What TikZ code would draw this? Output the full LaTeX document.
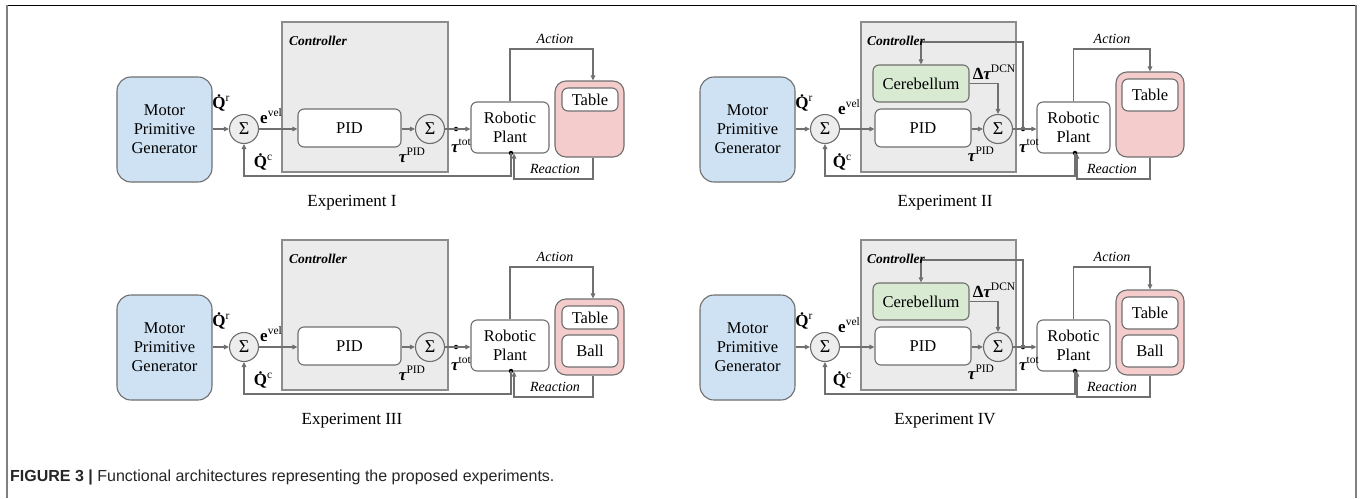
\documentclass[tikz,border=0pt]{standalone}
\usepackage{fontspec}
\setmainfont{Liberation Serif}
\newfontfamily\capfont{Liberation Sans}
\newfontfamily\txtfont{Liberation Serif}
\usetikzlibrary{arrows.meta}
\definecolor{mpgblue}{HTML}{CFE2F3}
\definecolor{ctrlbg}{HTML}{EBEBEB}
\definecolor{cergreen}{HTML}{D9EAD3}
\definecolor{envpink}{HTML}{F4CCCC}
\definecolor{bordergray}{HTML}{6F6F6F}
\definecolor{linegray}{HTML}{707070}
\definecolor{sumfill}{HTML}{EDEDED}
\newcommand\mysup[1]{\raisebox{0.42em}{\fontsize{11.5}{12}\selectfont\mdseries\upshape #1}}
\newcommand\qdot{{\bfseries\.{Q}}}
\newcommand\btau{{\bfseries\itshape τ}}
\tikzset{
  blk/.style={draw=bordergray, line width=1.1pt, rounded corners=6pt, fill=white,
    font=\txtfont\fontsize{16.5}{19}\selectfont, align=center, inner sep=0pt},
  mpgbox/.style={blk, fill=mpgblue, rounded corners=14pt},
  cerbox/.style={blk, fill=cergreen},
  envbox/.style={draw=bordergray, line width=1.1pt, rounded corners=11pt, fill=envpink, inner sep=0pt},
  ctrlbox/.style={draw=bordergray!80, line width=1.1pt, fill=ctrlbg, inner sep=0pt},
  ctrllbl/.style={font=\txtfont\fontsize{13.5}{15}\selectfont\bfseries\itshape, inner sep=0pt},
  sumc/.style={circle, draw=bordergray, line width=1.1pt, fill=sumfill, minimum size=29pt,
    inner sep=0pt, font=\txtfont\fontsize{18}{18}\selectfont},
  conn/.style={draw=linegray, line width=1.1pt},
  arr/.style={conn, -{Triangle[length=5pt,width=4.5pt]}},
  jdot/.style={circle, fill=black, minimum size=4.5pt, inner sep=0pt},
  sym/.style={font=\txtfont\fontsize{17}{18}\selectfont, inner sep=0pt},
  lbl/.style={font=\txtfont\fontsize{14}{15}\selectfont\itshape, inner sep=0pt},
  explbl/.style={font=\txtfont\fontsize{17}{18}\selectfont, inner sep=0pt},
}
% panel without cerebellum: #1 prefix, #2 yshift, #3 ball (1/0), #4 title
\newcommand\mypanelA[4]{%
\begin{scope}[yshift=#2]
\node[mpgbox, minimum width=95pt, minimum height=105pt] (#1mpg) at (164.5,129.5) {Motor\\Primitive\\Generator};
\node[ctrlbox, minimum width=166pt, minimum height=150pt] (#1ctrl) at (365,97) {};
\node[ctrllbl, anchor=west] (#1ctrlt) at (289,41) {Controller};
\node[sumc] (#1s1) at (244,129) {Σ};
\node[blk, minimum width=103pt, minimum height=38pt] (#1pid) at (349.5,128) {PID};
\node[sumc, fill=ctrlbg] (#1s2) at (430,129) {Σ};
\node[blk, minimum width=78pt, minimum height=51pt] (#1rp) at (510,127.5) {Robotic\\Plant};
\node[envbox, minimum width=69pt, minimum height=76pt] (#1env) at (589.5,119) {};
\node[blk, minimum width=56pt, minimum height=23pt] (#1tab) at (590,99.5) {Table};
\ifnum#3=1
\node[blk, minimum width=56pt, minimum height=32pt] (#1ball) at (590,133) {Ball};
\fi
\node[jdot] (#1j) at (456,129) {};
\node[jdot] (#1fb) at (511,153) {};
\coordinate (#1acttop) at (593,49);
\coordinate (#1reabot) at (593,179);
\coordinate (#1reac) at (514,179);
\coordinate (#1fbc) at (511,176);
\draw[arr] (#1mpg.east |- #1s1.west) -- (#1s1.west);
\draw[arr] (#1s1.east) -- (#1pid.west |- #1s1.east);
\draw[arr] (#1pid.east |- #1s2.west) -- (#1s2.west);
\draw[conn] (#1s2.east) -- (#1j.center);
\draw[arr] (#1j.center) -- (#1rp.west |- #1j.center);
\draw[arr] (#1rp.north) |- (#1acttop) -- (#1acttop |- #1env.north);
\draw[arr] (#1reabot |- #1env.south) -- (#1reabot) -- (#1reac) -- (#1reac |- #1rp.south);
\draw[arr] (#1fb.center) -- (#1fbc) -| (#1s1.south);
\node[lbl] (#1act) at (555,39) {Action};
\node[lbl] (#1rea) at (555,169) {Reaction};
\node[sym] (#1qr) at (221,103) {\qdot\mysup{r}};
\node[sym] (#1ev) at (271,116) {\textbf{e}\mysup{vel}};
\node[sym] (#1qc) at (263,162) {\qdot\mysup{c}};
\node[sym] (#1tp) at (412,155) {\btau\mysup{PID}};
\node[sym] (#1tt) at (461,146) {\btau\mysup{tot}};
\node[explbl] (#1title) at (352,203) {#4};
\end{scope}}
% panel with cerebellum
\newcommand\mypanelB[4]{%
\begin{scope}[yshift=#2]
\node[mpgbox, minimum width=95pt, minimum height=105pt] (#1mpg) at (747.5,129.5) {Motor\\Primitive\\Generator};
\node[ctrlbox, minimum width=155pt, minimum height=150pt] (#1ctrl) at (938.5,97) {};
\node[sumc] (#1s1) at (825,129) {Σ};
\node[cerbox, minimum width=96pt, minimum height=37pt] (#1cer) at (921,83.5) {Cerebellum};
\node[blk, minimum width=96pt, minimum height=38pt] (#1pid) at (923,128) {PID};
\node[sumc, fill=ctrlbg] (#1s2) at (998,129) {Σ};
\node[blk, minimum width=73pt, minimum height=51pt] (#1rp) at (1073.5,127.5) {Robotic\\Plant};
\node[envbox, minimum width=68pt, minimum height=85pt] (#1env) at (1150,114.5) {};
\node[blk, minimum width=56pt, minimum height=32pt] (#1tab) at (1150,95) {Table};
\ifnum#3=1
\node[blk, minimum width=56pt, minimum height=32pt] (#1ball) at (1150,133) {Ball};
\fi
\node[jdot] (#1j) at (1023,129) {};
\node[jdot] (#1fb) at (1075,153) {};
\coordinate (#1lp) at (1023,42);
\coordinate (#1acttop) at (1150,49);
\coordinate (#1reabot) at (1150,179);
\coordinate (#1reac) at (1077,179);
\coordinate (#1fbc) at (1075,176);
\draw[arr] (#1mpg.east |- #1s1.west) -- (#1s1.west);
\draw[arr] (#1s1.east) -- (#1pid.west |- #1s1.east);
\draw[arr] (#1pid.east |- #1s2.west) -- (#1s2.west);
\draw[conn] (#1s2.east) -- (#1j.center);
\draw[arr] (#1j.center) -- (#1rp.west |- #1j.center);
\draw[arr] (#1j.center) -- (#1lp) -| (#1cer.north);
\draw[arr] (#1cer.east) -| (#1s2.north);
\node[ctrllbl, anchor=west] (#1ctrlt) at (867,41) {Controller};
\draw[arr] (#1rp.north) |- (#1acttop) -- (#1acttop |- #1env.north);
\draw[arr] (#1reabot |- #1env.south) -- (#1reabot) -- (#1reac) -- (#1reac |- #1rp.south);
\draw[arr] (#1fb.center) -- (#1fbc) -| (#1s1.south);
\node[lbl] (#1act) at (1112,39) {Action};
\node[lbl] (#1rea) at (1112,169) {Reaction};
\node[sym] (#1qr) at (804,103) {\qdot\mysup{r}};
\node[sym] (#1ev) at (849,107) {\textbf{e}\mysup{vel}};
\node[sym] (#1qc) at (842,162) {\qdot\mysup{c}};
\node[sym] (#1tp) at (981,154) {\btau\mysup{PID}};
\node[sym] (#1tt) at (1029,146) {\btau\mysup{tot}};
\node[sym] (#1dt) at (994,72) {{\bfseries Δ}\btau\mysup{DCN}};
\node[explbl] (#1title) at (945,203) {#4};
\end{scope}}
\begin{document}
\begin{tikzpicture}[x=1pt,y=-1pt]
\useasboundingbox (0,0) rectangle (1360,498);
\fill[white] (0,0) rectangle (1360,498);
\draw[black, line width=0.9pt] (7,5) -- (1356,5);
\draw[gray, line width=1.6pt] (7,5) -- (7,498);
\draw[gray, line width=1.6pt] (1356,5) -- (1356,498);
\mypanelA{a}{0pt}{0}{Experiment I}
\mypanelB{b}{0pt}{0}{Experiment II}
\mypanelA{c}{-218pt}{1}{Experiment III}
\mypanelB{d}{-218pt}{1}{Experiment IV}
\node[anchor=west, inner sep=0pt, font=\capfont\fontsize{16}{17}\selectfont, text=black!85] (cap) at (10,477)
  {\textbf{FIGURE 3 |} Functional architectures representing the proposed experiments.};
\end{tikzpicture}
\end{document}
